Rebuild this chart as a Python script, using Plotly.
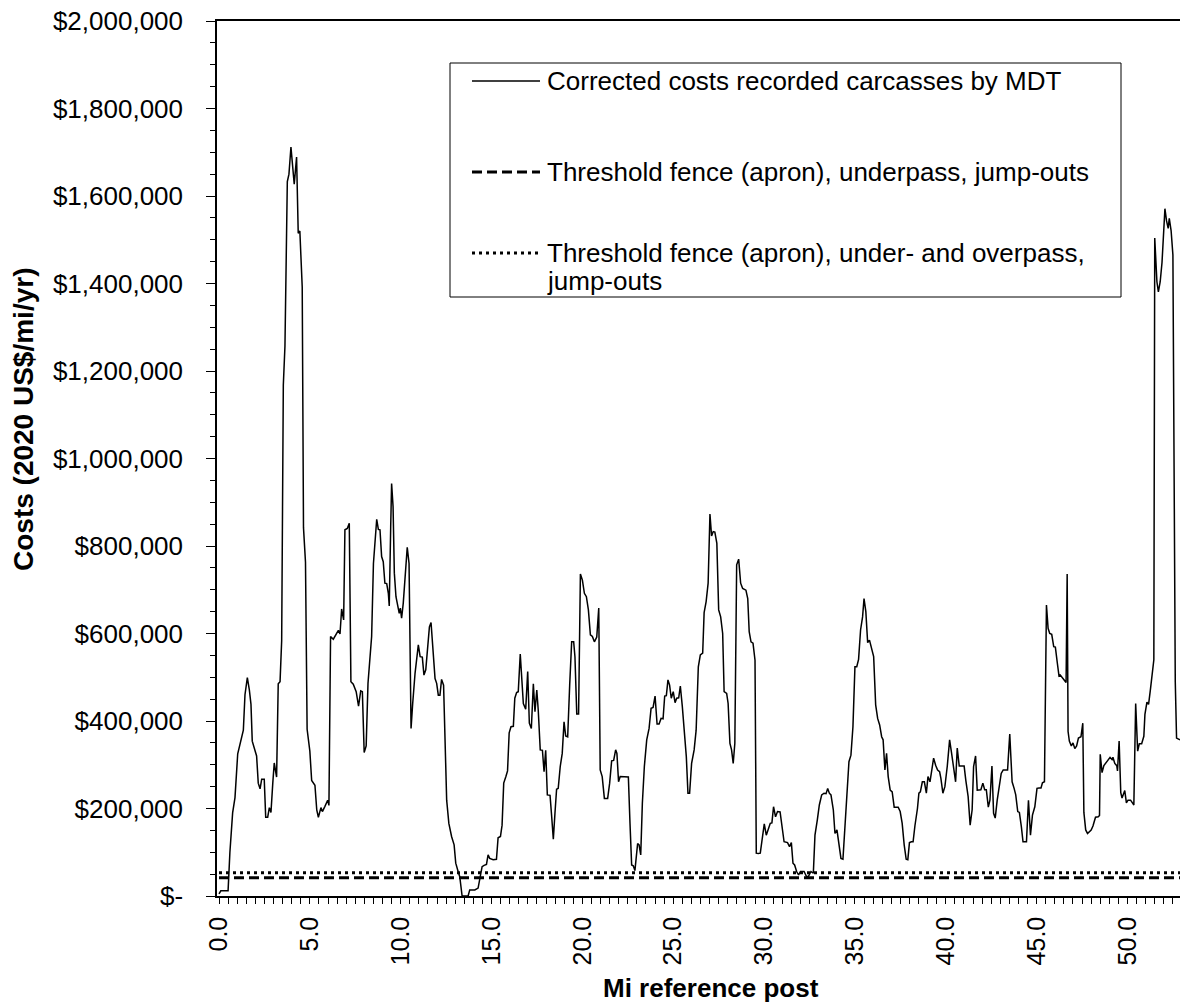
import plotly.graph_objects as go

# ---------------- data ----------------
mile_posts = [
    0.0, 0.1, 0.5, 0.6, 0.75, 0.88, 1.03, 1.16, 1.34, 1.43, 1.56, 1.67, 1.76, 1.83, 1.98, 2.07,
    2.16, 2.26, 2.35, 2.49, 2.57, 2.68, 2.77, 2.86, 2.96, 3.04, 3.17, 3.26, 3.36, 3.45, 3.54, 3.63,
    3.76, 3.85, 3.96, 4.05, 4.14, 4.27, 4.36, 4.45, 4.58, 4.65, 4.76, 4.85, 5.0, 5.1, 5.28, 5.38,
    5.47, 5.61, 5.69, 5.83, 5.98, 6.05, 6.14, 6.29, 6.42, 6.57, 6.66, 6.75, 6.86, 6.93, 7.06, 7.17,
    7.26, 7.39, 7.55, 7.68, 7.8, 7.89, 7.99, 8.1, 8.2, 8.4, 8.5, 8.68, 8.77, 8.86, 8.95, 9.04,
    9.13, 9.23, 9.32, 9.37, 9.45, 9.5, 9.58, 9.65, 9.74, 9.84, 9.92, 9.98, 10.05, 10.14, 10.27, 10.36,
    10.46, 10.57, 10.66, 10.79, 10.97, 11.07, 11.19, 11.28, 11.38, 11.49, 11.58, 11.67, 11.8, 11.89, 11.98, 12.07,
    12.16, 12.25, 12.36, 12.43, 12.53, 12.65, 12.8, 12.94, 13.03, 13.16, 13.25, 13.38, 13.52, 13.71, 13.8, 14.08,
    14.26, 14.35, 14.48, 14.59, 14.72, 14.81, 14.9, 15.09, 15.27, 15.36, 15.49, 15.58, 15.67, 15.79, 15.88, 15.97,
    16.07, 16.2, 16.28, 16.38, 16.47, 16.58, 16.66, 16.75, 16.88, 16.99, 17.08, 17.19, 17.3, 17.39, 17.49, 17.57,
    17.68, 17.8, 17.89, 17.98, 18.07, 18.22, 18.31, 18.4, 18.49, 18.58, 18.67, 18.78, 18.89, 18.99, 19.08, 19.19,
    19.3, 19.41, 19.52, 19.59, 19.69, 19.79, 19.89, 20.0, 20.11, 20.22, 20.33, 20.44, 20.55, 20.66, 20.79, 20.9,
    20.98, 21.09, 21.21, 21.39, 21.5, 21.61, 21.72, 21.83, 21.9, 21.99, 22.08, 22.34, 22.53, 22.62, 22.71, 22.8,
    22.89, 23.04, 23.12, 23.21, 23.3, 23.41, 23.54, 23.67, 23.78, 23.89, 24.0, 24.11, 24.22, 24.33, 24.44, 24.53,
    24.62, 24.71, 24.8, 24.89, 25.0, 25.1, 25.19, 25.3, 25.39, 25.5, 25.61, 25.72, 25.81, 25.9, 26.01, 26.15,
    26.26, 26.38, 26.49, 26.62, 26.7, 26.81, 26.92, 27.02, 27.11, 27.2, 27.29, 27.4, 27.5, 27.61, 27.72, 27.8,
    27.94, 28.02, 28.12, 28.21, 28.3, 28.39, 28.49, 28.6, 28.71, 28.82, 29.0, 29.1, 29.18, 29.28, 29.39, 29.5,
    29.57, 29.68, 29.79, 29.9, 30.01, 30.12, 30.23, 30.34, 30.43, 30.52, 30.63, 30.74, 30.88, 31.0, 31.1, 31.29,
    31.4, 31.5, 31.59, 31.68, 31.79, 31.9, 32.0, 32.2, 32.34, 32.44, 32.58, 32.71, 32.8, 32.93, 33.04, 33.17,
    33.3, 33.41, 33.5, 33.59, 33.68, 33.81, 33.9, 34.01, 34.12, 34.23, 34.34, 34.45, 34.56, 34.67, 34.78, 34.89,
    35.0, 35.1, 35.2, 35.31, 35.42, 35.5, 35.6, 35.7, 35.8, 35.92, 36.03, 36.14, 36.25, 36.36, 36.47, 36.55,
    36.65, 36.74, 36.83, 36.94, 37.05, 37.16, 37.38, 37.49, 37.6, 37.71, 37.82, 37.91, 38.0, 38.11, 38.2, 38.3,
    38.44, 38.52, 38.6, 38.71, 38.82, 38.93, 39.02, 39.13, 39.22, 39.33, 39.44, 39.55, 39.66, 39.73, 39.84, 39.95,
    40.08, 40.21, 40.32, 40.43, 40.54, 40.63, 40.74, 40.87, 41.01, 41.1, 41.23, 41.34, 41.45, 41.53, 41.64, 41.73,
    41.84, 41.93, 42.04, 42.14, 42.23, 42.34, 42.43, 42.54, 42.63, 42.72, 42.83, 42.94, 43.05, 43.16, 43.4, 43.52,
    43.65, 43.76, 43.85, 43.96, 44.05, 44.16, 44.25, 44.44, 44.55, 44.66, 44.77, 44.9, 45.02, 45.13, 45.24, 45.32,
    45.43, 45.54, 45.63, 45.72, 45.83, 45.94, 46.03, 46.14, 46.23, 46.3, 46.4, 46.53, 46.62, 46.68, 46.73, 46.8,
    46.91, 47.0, 47.1, 47.2, 47.3, 47.44, 47.54, 47.6, 47.7, 47.8, 47.9, 48.0, 48.1, 48.24, 48.39, 48.46,
    48.5, 48.6, 48.7, 48.9, 49.04, 49.15, 49.2, 49.3, 49.41, 49.45, 49.54, 49.63, 49.7, 49.85, 49.94, 50.03,
    50.17, 50.3, 50.35, 50.45, 50.56, 50.65, 50.78, 50.9, 50.96, 51.07, 51.16, 51.26, 51.38, 51.45, 51.5, 51.62,
    51.7, 51.8, 51.9, 51.98, 52.06, 52.15, 52.24, 52.3, 52.4, 52.5, 52.63, 52.7, 52.89,
]

corrected_costs = [
    5000, 12000, 12000, 100000, 190000, 225000, 325000, 347000, 379000, 460000, 499000, 471000, 438000, 354000, 331000, 320000,
    258000, 245000, 267000, 267000, 180000, 180000, 202000, 191000, 258000, 304000, 272000, 485000, 490000, 584000, 1168000, 1257000,
    1633000, 1650000, 1712000, 1667000, 1627000, 1689000, 1515000, 1520000, 1392000, 842000, 763000, 381000, 331000, 264000, 253000, 197000,
    180000, 202000, 193000, 205000, 219000, 207000, 593000, 587000, 596000, 607000, 599000, 656000, 631000, 837000, 840000, 852000,
    490000, 484000, 467000, 434000, 469000, 467000, 328000, 343000, 486000, 593000, 760000, 861000, 838000, 837000, 776000, 764000,
    715000, 714000, 692000, 663000, 844000, 943000, 890000, 738000, 684000, 658000, 646000, 658000, 635000, 669000, 738000, 797000,
    760000, 383000, 440000, 509000, 574000, 547000, 546000, 505000, 517000, 570000, 615000, 625000, 539000, 497000, 486000, 459000,
    459000, 495000, 482000, 372000, 219000, 166000, 136000, 117000, 75000, 56000, 44000, 0, 0, 0, 14000, 14000,
    18000, 37000, 67000, 70000, 72000, 94000, 86000, 83000, 84000, 133000, 136000, 162000, 258000, 273000, 286000, 373000,
    387000, 388000, 452000, 465000, 467000, 553000, 509000, 440000, 427000, 513000, 395000, 383000, 485000, 421000, 471000, 425000,
    334000, 333000, 284000, 333000, 231000, 230000, 181000, 130000, 189000, 244000, 246000, 296000, 326000, 398000, 366000, 364000,
    482000, 581000, 581000, 547000, 416000, 416000, 736000, 722000, 692000, 684000, 654000, 597000, 593000, 581000, 592000, 658000,
    288000, 273000, 223000, 223000, 258000, 309000, 310000, 334000, 326000, 261000, 273000, 273000, 272000, 166000, 71000, 69000,
    58000, 120000, 117000, 94000, 212000, 296000, 357000, 383000, 429000, 431000, 457000, 393000, 393000, 406000, 405000, 457000,
    458000, 494000, 482000, 452000, 467000, 442000, 452000, 453000, 480000, 433000, 364000, 318000, 235000, 235000, 303000, 334000,
    379000, 524000, 551000, 555000, 648000, 673000, 715000, 873000, 823000, 833000, 832000, 806000, 654000, 638000, 600000, 467000,
    463000, 440000, 349000, 334000, 303000, 349000, 757000, 770000, 715000, 703000, 699000, 680000, 604000, 581000, 578000, 539000,
    98000, 97000, 98000, 128000, 165000, 139000, 155000, 166000, 167000, 204000, 181000, 193000, 192000, 151000, 124000, 122000,
    113000, 122000, 75000, 71000, 56000, 48000, 56000, 56000, 44000, 45000, 56000, 52000, 139000, 174000, 208000, 231000,
    235000, 234000, 246000, 235000, 231000, 197000, 143000, 151000, 120000, 86000, 84000, 166000, 246000, 307000, 322000, 387000,
    524000, 524000, 541000, 608000, 638000, 680000, 650000, 579000, 585000, 566000, 547000, 437000, 406000, 391000, 364000, 357000,
    288000, 326000, 273000, 242000, 238000, 203000, 203000, 193000, 166000, 117000, 84000, 83000, 122000, 124000, 124000, 160000,
    200000, 235000, 238000, 261000, 261000, 235000, 273000, 261000, 282000, 315000, 299000, 288000, 284000, 269000, 235000, 250000,
    296000, 357000, 326000, 296000, 261000, 338000, 297000, 297000, 297000, 265000, 227000, 162000, 197000, 296000, 320000, 242000,
    242000, 243000, 258000, 243000, 243000, 203000, 219000, 297000, 189000, 178000, 219000, 254000, 280000, 288000, 288000, 370000,
    261000, 246000, 231000, 193000, 191000, 158000, 124000, 124000, 219000, 139000, 185000, 204000, 246000, 247000, 247000, 259000,
    261000, 665000, 612000, 600000, 598000, 570000, 569000, 532000, 503000, 505000, 500000, 492000, 488000, 736000, 376000, 354000,
    343000, 350000, 337000, 343000, 361000, 364000, 395000, 191000, 151000, 143000, 146000, 151000, 160000, 180000, 181000, 184000,
    324000, 282000, 298000, 310000, 317000, 312000, 317000, 303000, 298000, 286000, 354000, 236000, 224000, 241000, 213000, 219000,
    219000, 211000, 208000, 440000, 331000, 348000, 348000, 365000, 415000, 443000, 438000, 471000, 522000, 540000, 1504000, 1404000,
    1381000, 1404000, 1448000, 1504000, 1571000, 1543000, 1526000, 1549000, 1521000, 1465000, 489000, 361000, 357000,
]

threshold_underpass = 42000          # fence (apron), underpass, jump-outs
threshold_under_overpass = 53000     # fence (apron), under- and overpass, jump-outs

series_names = [
    "Corrected costs recorded carcasses by MDT",
    "Threshold fence (apron), underpass, jump-outs",
    "Threshold fence (apron), under- and overpass, jump-outs",
]

x_tick_values = [i * 0.5 for i in range(0, 106)]
x_tick_labels = [f"{v:.1f}" if abs(v % 5) < 1e-9 else "" for v in x_tick_values]
y_tick_values = list(range(0, 2000001, 200000))
y_tick_labels = ["$-" if v == 0 else f"${v:,}" for v in y_tick_values]

# ---------------- figure ----------------
FONT = "Liberation Sans, Arial, sans-serif"
W, H = 1180, 1004
L, R, T, B = 217, 0, 21, 108
PW, PH = W - L - R, H - T - B


def px(x):
    return (x - L) / PW


def py(y):
    return (H - B - y) / PH


fig = go.Figure()
fig.add_trace(go.Scatter(
    x=mile_posts, y=corrected_costs, mode="lines", name=series_names[0],
    line=dict(color="black", width=1.5), showlegend=False))
fig.add_trace(go.Scatter(
    x=[mile_posts[0], mile_posts[-1]], y=[threshold_underpass] * 2, mode="lines",
    name=series_names[1], line=dict(color="black", width=3, dash="10px,5px"), showlegend=False))
fig.add_trace(go.Scatter(
    x=[mile_posts[0], mile_posts[-1]], y=[threshold_under_overpass] * 2, mode="lines",
    name=series_names[2], line=dict(color="black", width=3, dash="3px,4px"), showlegend=False))

fig.update_layout(
    width=W, height=H,
    margin=dict(l=L, r=R, t=T, b=B, pad=0),
    paper_bgcolor="white", plot_bgcolor="white",
    font=dict(family=FONT, size=26, color="black"),
    showlegend=False,
    xaxis=dict(
        range=[-0.11, 52.89], showgrid=False, zeroline=False,
        showline=True, linecolor="black", linewidth=1.5, mirror=True,
        ticks="outside", ticklen=6, tickwidth=1, tickcolor="black",
        tickmode="array", tickvals=x_tick_values, ticktext=x_tick_labels,
        tickangle=-90, tickfont=dict(family=FONT, size=25, color="black"),
        ticklabelstandoff=3,
    ),
    yaxis=dict(
        range=[0, 2000000], showgrid=False, zeroline=False,
        showline=True, linecolor="black", linewidth=1.5,
        ticks="outside", ticklen=9, tickwidth=1, tickcolor="black",
        tickmode="array", tickvals=y_tick_values, ticktext=y_tick_labels,
        tickfont=dict(family=FONT, size=26, color="black"),
        ticklabelstandoff=18,
        minor=dict(dtick=50000, ticks="outside", ticklen=5, tickwidth=1, tickcolor="black", showgrid=False),
    ),
)

ann = []
ann.append(dict(text="<b>Mi reference post</b>", xref="paper", yref="paper",
                x=px(711), y=py(988), xanchor="center", yanchor="middle",
                showarrow=False, font=dict(family=FONT, size=26, color="black")))
ann.append(dict(text="<b>Costs (2020 US$/mi/yr)</b>", xref="paper", yref="paper",
                x=px(24), y=py(420), xanchor="center", yanchor="middle", textangle=-90,
                showarrow=False, font=dict(family=FONT, size=28, color="black")))

# legend (manual box)
shapes = [dict(type="rect", xref="paper", yref="paper", x0=px(450), x1=px(1121), y0=py(297), y1=py(63),
               line=dict(color="black", width=1), fillcolor="white", layer="above")]
rows = [(81, dict(color="black", width=1.5)),
        (172, dict(color="black", width=3, dash="10px,5px")),
        (253, dict(color="black", width=3, dash="3px,4px"))]
for yy, ln in rows:
    shapes.append(dict(type="line", xref="paper", yref="paper", x0=px(472), x1=px(540), y0=py(yy), y1=py(yy),
                       line=ln, layer="above"))
legend_lines = [(81, series_names[0]), (172, series_names[1]),
                (253, "Threshold fence (apron), under- and overpass,"), (281, "jump-outs")]
for yy, t in legend_lines:
    ann.append(dict(text=t, xref="paper", yref="paper", x=px(545), y=py(yy), xanchor="left", yanchor="middle",
                    showarrow=False, font=dict(family=FONT, size=26, color="black")))

fig.update_layout(annotations=ann, shapes=shapes)
fig.write_html("out.html")
